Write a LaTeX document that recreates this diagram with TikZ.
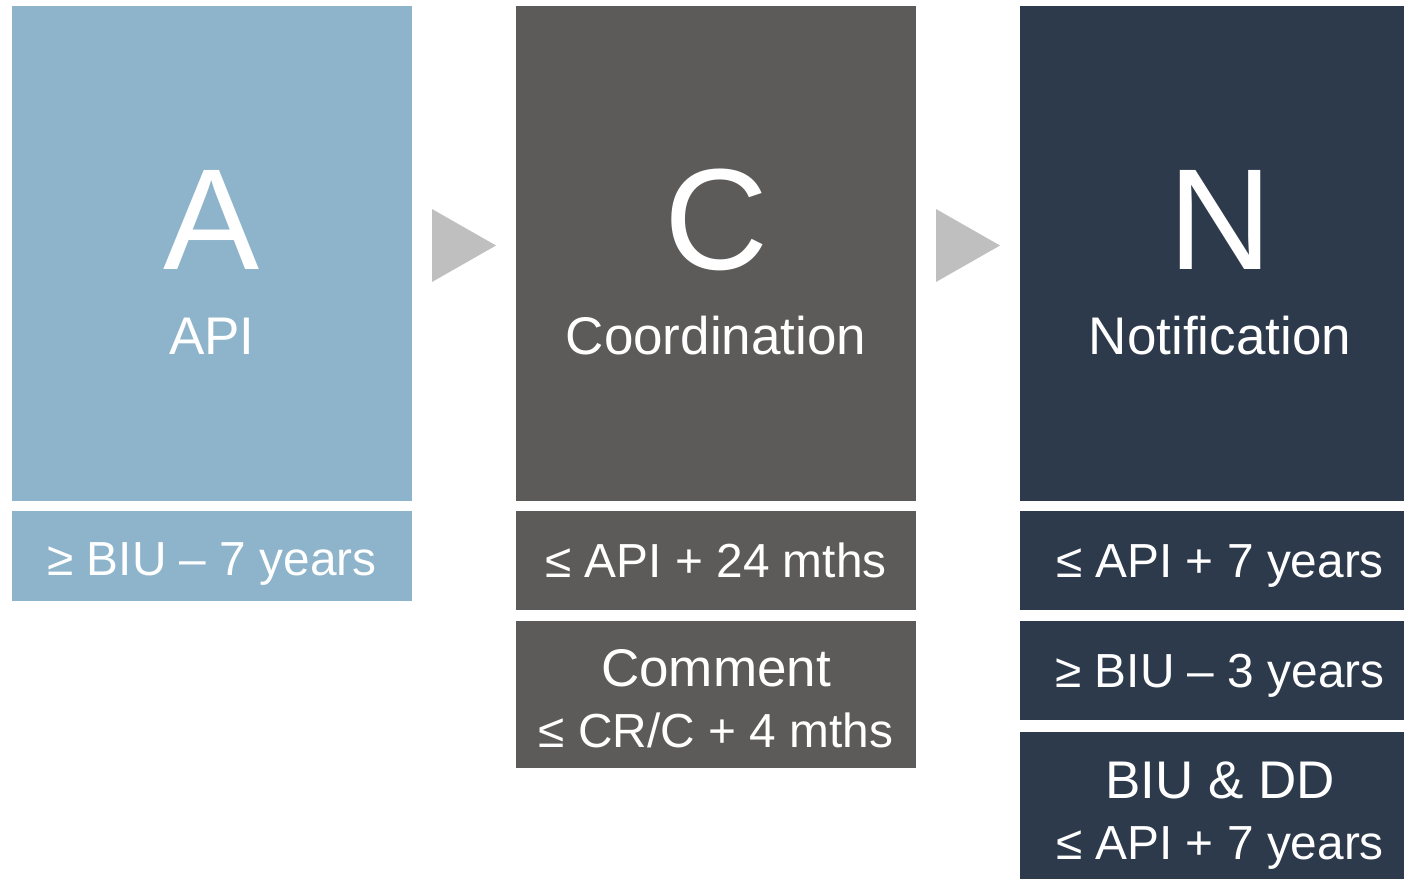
\documentclass[tikz,border=0pt]{standalone}
\usepackage{xcolor}
\usepackage{fontspec}
\setmainfont{Liberation Sans}
\usetikzlibrary{positioning}

\definecolor{apiblue}{HTML}{8DB4CA}
\definecolor{coordgray}{HTML}{5D5B59}
\definecolor{notifnavy}{HTML}{2D3A4C}
\definecolor{arrowgray}{HTML}{BFBFBF}

\begin{document}
\begin{tikzpicture}[x=0.5pt, y=-0.5pt,
      panel/.style={rectangle, inner sep=0pt, outer sep=0pt, minimum width=200pt},
      big/.style={text=white, inner sep=0pt, anchor=base, font=\fontsize{72}{72}\selectfont},
      title/.style={text=white, inner sep=0pt, anchor=base, font=\fontsize{26.5}{26.5}\selectfont},
      rule/.style={text=white, inner sep=0pt, anchor=base, font=\fontsize{23.9}{23.9}\selectfont}
      ]
      \useasboundingbox (0,0) rectangle (1404,879);

      % API column
      \node[panel, fill=apiblue, minimum height=247.5pt] (apiTop) at (212,253.5) {};
      \node[panel, fill=apiblue, minimum height=45pt] (apiRule) at (212,556) {};
      \node[big] (apiLetter) at (212,269) {A};
      \node[title] (apiName) at (212,354) {API};
      \node[rule] (apiText) at (212,575) {≥ BIU – 7 years};

      % Coordination column
      \node[panel, fill=coordgray, minimum height=247.5pt] (coordTop) at (716,253.5) {};
      \node[panel, fill=coordgray, minimum height=49.5pt] (coordRule) at (716,560.5) {};
      \node[panel, fill=coordgray, minimum height=73.5pt] (coordComment) at (716,694.5) {};
      \node[big] (coordLetter) at (716,269) {C};
      \node[title] (coordName) at (716,354) {Coordination};
      \node[rule] (coordText) at (716,577) {≤ API + 24 mths};
      \node[title] (commentA) at (716,686) {Comment};
      \node[rule] (commentB) at (716,747) {≤ CR/C + 4 mths};

      % Notification column (text centred as if the panel ran past the edge)
      \node[panel, fill=notifnavy, minimum width=192pt, minimum height=247.5pt] (notifTop) at (1212,253.5) {};
      \node[panel, fill=notifnavy, minimum width=192pt, minimum height=49.5pt] (notifRuleA) at (1212,560.5) {};
      \node[panel, fill=notifnavy, minimum width=192pt, minimum height=49.5pt] (notifRuleB) at (1212,670.5) {};
      \node[panel, fill=notifnavy, minimum width=192pt, minimum height=73.5pt] (notifRuleC) at (1212,805.5) {};
      \node[big] (notifLetter) at (1220,269) {N};
      \node[title] (notifName) at (1220,354) {Notification};
      \node[rule] (notifTextA) at (1220,577) {≤ API + 7 years};
      \node[rule] (notifTextB) at (1220,687) {≥ BIU – 3 years};
      \node[title] (notifTextC) at (1220,798) {BIU \& DD};
      \node[rule] (notifTextD) at (1220,859) {≤ API + 7 years};

      % chevrons between columns
      \fill[arrowgray] (432,209) -- (496,245.5) -- (432,282) -- cycle;
      \fill[arrowgray] (936,209) -- (1000,245.5) -- (936,282) -- cycle;
    \end{tikzpicture}
\end{document}
